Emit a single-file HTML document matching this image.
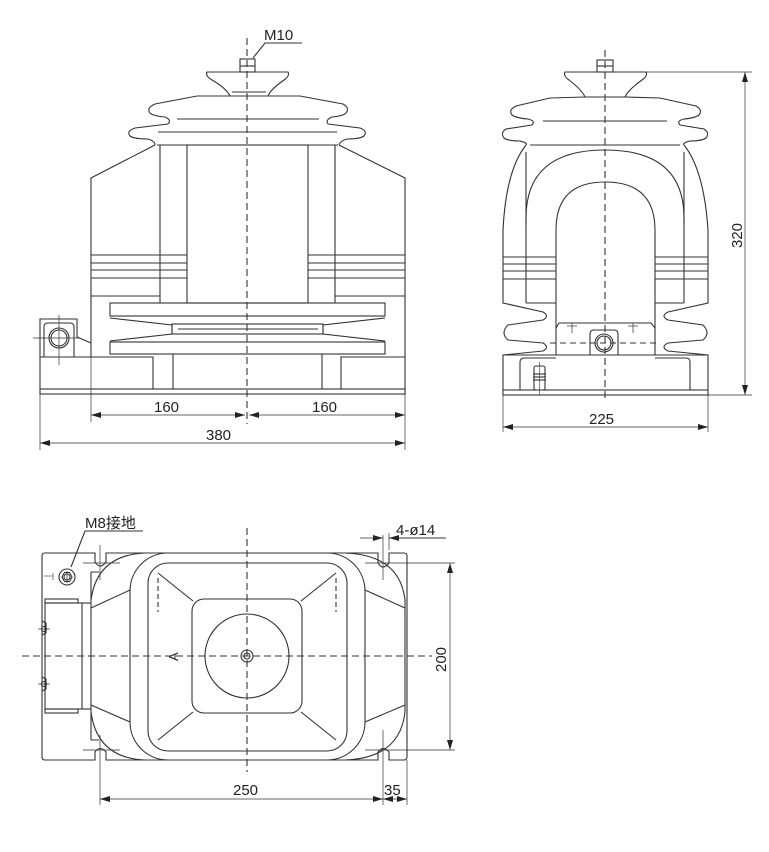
<!DOCTYPE html>
<html><head><meta charset="utf-8"><style>
html,body{margin:0;padding:0;background:#fff;}
svg{display:block;}
text{font-family:"Liberation Sans","Noto Sans CJK SC",sans-serif;fill:#222;}
</style></head><body>
<svg width="769" height="852" viewBox="0 0 769 852" xmlns="http://www.w3.org/2000/svg">
<defs>
<marker id="a" viewBox="0 0 10 6" refX="10" refY="3" markerWidth="10" markerHeight="6" orient="auto-start-reverse" markerUnits="userSpaceOnUse"><path d="M0,0 L10,3 L0,6 z" fill="#222"/></marker>
</defs>
<g fill="none" stroke="#333" stroke-width="1.1">
<line x1="247" y1="38" x2="247" y2="424" stroke-dasharray="7,4"/>
<rect x="240" y="59" width="15" height="13"/>
<line x1="240" y1="66" x2="255" y2="66"/>
<path d="M207,72 L288,72 Q290,76 284,80 Q270,90 268,96 L230,96 Q226,88 212,80 Q205,76 207,72 Z"/>
<line x1="232" y1="92" x2="266" y2="92"/>
<path d="M230,96 L197,96 L155,104 Q146,108 150,113 Q153,116 165,117 Q172,120 168,124 M268,96 L300,96 L343,104 Q350,108 346,113 Q343,116 332,117 Q325,120 328,124"/>
<line x1="177" y1="119" x2="319" y2="119"/>
<path d="M168,124 L135,128 Q126,131 130,136 Q134,139 148,139 Q155,141 155,145 M328,124 L360,128 Q368,131 364,136 Q360,139 347,139 Q340,141 339,145"/>
<line x1="158" y1="132" x2="337" y2="132"/>
<line x1="157" y1="145" x2="338" y2="145"/>
<path d="M155,145 L91,178 L91,357"/>
<path d="M339,145 L405,178 L405,394"/>
<rect x="187" y="145" width="121" height="158"/>
<line x1="160" y1="145" x2="160" y2="303"/>
<line x1="335" y1="145" x2="335" y2="303"/>
<g>
<line x1="91" y1="255" x2="187" y2="255"/><line x1="91" y1="263" x2="187" y2="263"/><line x1="91" y1="270" x2="187" y2="270"/><line x1="91" y1="278" x2="187" y2="278"/><line x1="91" y1="296" x2="160" y2="296"/>
<line x1="308" y1="255" x2="405" y2="255"/><line x1="308" y1="263" x2="405" y2="263"/><line x1="308" y1="270" x2="405" y2="270"/><line x1="308" y1="278" x2="405" y2="278"/><line x1="335" y1="296" x2="405" y2="296"/>
</g>
<rect x="110" y="303" width="275" height="13"/>
<path d="M110,318 L172,325 L172,334 L110,341"/>
<path d="M385,318 L323,325 L323,334 L385,341"/>
<rect x="172" y="324" width="151" height="10"/>
<line x1="178" y1="329" x2="318" y2="329"/>
<rect x="110" y="342" width="275" height="12"/>
<path d="M40,357 L153,357 L153,389"/>
<path d="M405,357 L341,357 L341,389"/>
<line x1="173" y1="354" x2="173" y2="389"/>
<line x1="322" y1="354" x2="322" y2="389"/>
<rect x="40" y="389" width="365" height="5"/>
<line x1="40" y1="357" x2="40" y2="389"/>
<path d="M40,357 L40,319 L77,319 L77,337 L91,343"/>
<path d="M44,357 L44,327 Q44,323 48,323 L70,323 Q74,323 74,327 L74,357"/>
<circle cx="59" cy="338" r="10"/><circle cx="59" cy="338" r="8"/>
<line x1="33" y1="338" x2="80" y2="338" stroke-width="0.7"/>
<line x1="59" y1="315" x2="59" y2="365" stroke-width="0.7"/>
<path d="M302,43 L265,43 L253,58" />
<line x1="91" y1="357" x2="91" y2="422" stroke-width="0.7"/>
<line x1="40" y1="394" x2="40" y2="450" stroke-width="0.7"/>
<line x1="405" y1="394" x2="405" y2="450" stroke-width="0.7"/>
<line x1="91" y1="415" x2="245" y2="415" stroke-width="0.7" marker-start="url(#a)" marker-end="url(#a)"/>
<line x1="249" y1="415" x2="405" y2="415" stroke-width="0.7" marker-start="url(#a)" marker-end="url(#a)"/>
<line x1="40" y1="443" x2="405" y2="443" stroke-width="0.7" marker-start="url(#a)" marker-end="url(#a)"/>

<line x1="605" y1="50" x2="605" y2="400" stroke-dasharray="7,4"/>
<rect x="597" y="60" width="16" height="12"/>
<line x1="597" y1="66" x2="613" y2="66"/>
<path d="M565,72 L646,72 Q648,76 642,80 Q628,90 625,97 L585,97 Q582,90 569,80 Q563,76 565,72 Z"/>
<path d="M585,97 L550,98 L516,106 Q508,110 512,115 Q516,118 528,119 Q536,121 532,125 M625,97 L660,98 L696,106 Q703,110 699,115 Q695,118 684,119 Q676,121 680,125"/>
<line x1="543" y1="121" x2="667" y2="121"/>
<path d="M532,125 L506,129 Q500,133 504,138 Q508,141 520,141 Q528,143 526,145 M680,125 L704,129 Q710,133 706,138 Q702,141 690,141 Q682,143 684,145"/>
<line x1="530" y1="145" x2="680" y2="145"/>
<path d="M526,145 Q506,170 503,230 L503,303 L543,312 Q550,316 543,320 L508,325 Q500,333 508,340 L543,343 Q550,347 543,351 L503,355 L503,390"/>
<path d="M684,145 Q704,170 708,230 L708,303 L668,312 Q660,316 668,320 L703,325 Q711,333 703,340 L668,343 Q660,347 668,351 L708,355 L708,390"/>
<line x1="526" y1="152" x2="526" y2="303"/>
<line x1="684" y1="152" x2="684" y2="303"/>
<path d="M526,225 L526,218 Q526,150 605,150 Q684,150 684,218 L684,225"/>
<path d="M556,355 L556,230 Q556,182 605,182 Q655,182 655,230 L655,355"/>
<line x1="503" y1="257" x2="556" y2="257"/><line x1="503" y1="264" x2="556" y2="264"/><line x1="503" y1="271" x2="556" y2="271"/><line x1="503" y1="279" x2="556" y2="279"/><line x1="526" y1="303" x2="556" y2="303"/>
<line x1="655" y1="257" x2="708" y2="257"/><line x1="655" y1="264" x2="708" y2="264"/><line x1="655" y1="271" x2="708" y2="271"/><line x1="655" y1="279" x2="708" y2="279"/><line x1="655" y1="303" x2="684" y2="303"/>
<path d="M556,328 L559,323 L651,323 L655,328"/>
<line x1="572" y1="323" x2="572" y2="333" stroke-width="0.7"/><line x1="567" y1="326" x2="577" y2="326" stroke-width="0.7"/>
<line x1="633" y1="323" x2="633" y2="333" stroke-width="0.7"/><line x1="628" y1="326" x2="638" y2="326" stroke-width="0.7"/>
<path d="M590,355 L590,334 Q590,330 594,330 L614,330 Q618,330 618,334 L618,355"/>
<circle cx="604" cy="343" r="9"/><circle cx="604" cy="343" r="7"/>
<line x1="550" y1="343" x2="660" y2="343" stroke-dasharray="6,4"/>
<line x1="503" y1="355" x2="708" y2="355"/>
<path d="M520,390 L520,362 Q520,358 525,358 L556,358 M655,358 L686,358 Q690,358 690,362 L690,390"/>
<rect x="503" y="390" width="205" height="5"/>
<rect x="534" y="366" width="11" height="24" rx="2"/>
<line x1="533" y1="374" x2="546" y2="374"/><line x1="533" y1="377" x2="546" y2="377"/><line x1="533" y1="380" x2="546" y2="380"/>
<line x1="539.5" y1="362" x2="539.5" y2="395" stroke-width="0.6"/>
<line x1="646" y1="72" x2="752" y2="72" stroke-width="0.7"/>
<line x1="708" y1="395" x2="752" y2="395" stroke-width="0.7"/>
<line x1="745" y1="72" x2="745" y2="395" stroke-width="0.7" marker-start="url(#a)" marker-end="url(#a)"/>
<line x1="503" y1="395" x2="503" y2="432" stroke-width="0.7"/>
<line x1="708" y1="395" x2="708" y2="432" stroke-width="0.7"/>
<line x1="503" y1="427" x2="708" y2="427" stroke-width="0.7" marker-start="url(#a)" marker-end="url(#a)"/>

<line x1="247" y1="528" x2="247" y2="772" stroke-dasharray="7,4"/>
<line x1="22" y1="656" x2="432" y2="656" stroke-dasharray="7,4"/>
<path d="M95,553 L45,553 Q42,553 42,556 L42,757 Q42,760 45,760 L95,760 L95,752 Q100,745 106,752 L106,760 L378,760 L378,752 Q383,745 389,752 L389,760 L404,760 Q407,760 407,757 L407,556 Q407,553 404,553 L389,553 L389,563 Q383,571 378,563 L378,553 L106,553 L106,562 Q100,570 95,562 Z"/>
<path d="M145,553 Q97,555 91,600 L91,712 Q97,758 145,760 M345,553 Q400,555 405,600 L405,712 Q400,758 345,760"/>
<path d="M91,572 L91,600 M91,712 L91,740" />
<path d="M91,572 L99,572 M91,740 L99,740"/>
<line x1="91" y1="608" x2="130" y2="590"/>
<line x1="91" y1="705" x2="130" y2="722"/>
<line x1="405" y1="608" x2="365" y2="590"/>
<line x1="405" y1="705" x2="365" y2="722"/>
<rect x="130" y="553" width="235" height="207" rx="38"/>
<rect x="148" y="563" width="199" height="188" rx="20"/>
<rect x="192" y="599" width="110" height="114" rx="12"/>
<circle cx="247" cy="656" r="42"/>
<circle cx="247" cy="656" r="6"/><circle cx="247" cy="656" r="3"/>
<line x1="158" y1="573" x2="193" y2="601"/><line x1="336" y1="573" x2="301" y2="601"/>
<line x1="158" y1="740" x2="193" y2="712"/><line x1="336" y1="740" x2="301" y2="712"/>
<line x1="158" y1="578" x2="158" y2="612" stroke-dasharray="5,3"/>
<line x1="336" y1="578" x2="336" y2="612" stroke-dasharray="5,3"/>
<rect x="45" y="603" width="37" height="106"/>
<rect x="45" y="599" width="33" height="4"/>
<rect x="45" y="709" width="33" height="4"/>
<line x1="82" y1="603" x2="91" y2="603"/><line x1="82" y1="709" x2="91" y2="709"/>
<path d="M42,621 L46,623 L46,633 L42,635"/><path d="M42,677 L46,679 L46,689 L42,691"/>
<line x1="38" y1="629" x2="50" y2="629" stroke-width="0.7"/><circle cx="44" cy="629" r="2.5"/>
<line x1="38" y1="684" x2="50" y2="684" stroke-width="0.7"/><circle cx="44" cy="684" r="2.5"/>
<circle cx="67" cy="577" r="8"/>
<path d="M62,577 L64.5,572.5 L69.5,572.5 L72,577 L69.5,581.5 L64.5,581.5 Z"/>
<circle cx="67" cy="577" r="3"/><line x1="67" y1="571" x2="67" y2="583" stroke-width="0.7"/>
<path d="M47,576 L53,576 M53,573 L53,580 M50,576 L44,576" stroke="#888"/>
<line x1="83" y1="563" x2="120" y2="563" stroke-width="0.7"/><line x1="100" y1="545" x2="100" y2="580" stroke-width="0.7"/>
<line x1="83" y1="750" x2="120" y2="750" stroke-width="0.7"/><line x1="100" y1="735" x2="100" y2="805" stroke-width="0.7"/>
<line x1="365" y1="563" x2="455" y2="563" stroke-width="0.7"/><line x1="383" y1="535" x2="383" y2="580" stroke-width="0.7"/>
<line x1="365" y1="750" x2="455" y2="750" stroke-width="0.7"/><line x1="383" y1="730" x2="383" y2="805" stroke-width="0.7"/>
<line x1="389" y1="533" x2="389" y2="550" stroke-width="0.7"/>
<line x1="407" y1="760" x2="407" y2="805" stroke-width="0.7"/>
<path d="M143,531 L85,531 L71,567"/>
<path d="M446,538 L389,538"/>
<line x1="360" y1="538" x2="383" y2="538" stroke-width="0.7" marker-end="url(#a)"/>
<line x1="405" y1="538" x2="389" y2="538" stroke-width="0.7" marker-end="url(#a)"/>
<line x1="450" y1="563" x2="450" y2="750" stroke-width="0.7" marker-start="url(#a)" marker-end="url(#a)"/>
<line x1="100" y1="799" x2="383" y2="799" stroke-width="0.7" marker-start="url(#a)" marker-end="url(#a)"/>
<line x1="383" y1="799" x2="407" y2="799" stroke-width="0.7" marker-start="url(#a)" marker-end="url(#a)"/>
</g>
<text x="264" y="40" font-size="15">M10</text>
<text x="154" y="412" font-size="15">160</text>
<text x="312" y="412" font-size="15">160</text>
<text x="206" y="440" font-size="15">380</text>
<text x="589" y="424" font-size="15">225</text>
<text x="0" y="0" font-size="15" transform="translate(742,248) rotate(-90)">320</text>
<text x="85" y="528" font-size="15">M8接地</text>
<text x="396" y="535" font-size="15">4-ø14</text>
<text x="0" y="0" font-size="15" transform="translate(446,672) rotate(-90)">200</text>
<text x="233" y="795" font-size="15">250</text>
<text x="384" y="795" font-size="15">35</text>
<text x="0" y="0" font-size="13" transform="translate(178,661) rotate(-90)">A</text>
</svg>
</body></html>
